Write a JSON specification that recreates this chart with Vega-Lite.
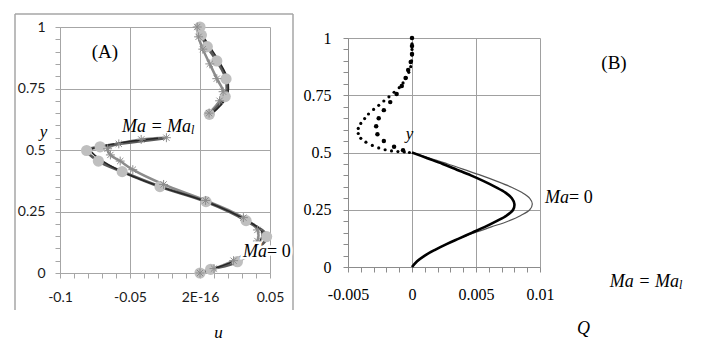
{
  "$schema": "https://vega.github.io/schema/vega-lite/v6.json",
  "background": "white",
  "padding": {"left": 14, "top": 13, "right": 0, "bottom": 0},
  "config": {"view": {"stroke": null}, "axis": {"domainWidth": 1, "gridWidth": 1, "tickWidth": 1}},
  "datasets": {
    "ua": [
      {"u": 0, "y": 1, "p": "up", "m": 1},
      {"u": 0.001, "y": 0.967, "p": "up", "m": 1},
      {"u": 0.0052, "y": 0.92, "p": "up", "m": 1},
      {"u": 0.012, "y": 0.862, "p": "up", "m": 1},
      {"u": 0.0186, "y": 0.789, "p": "up", "m": 1},
      {"u": 0.018, "y": 0.717, "p": "up", "m": 1},
      {"u": 0.0067, "y": 0.645, "p": "up", "m": 1},
      {"u": -0.026, "y": 0.548, "p": "lo", "m": 0},
      {"u": -0.0714, "y": 0.513, "p": "lo", "m": 1},
      {"u": -0.081, "y": 0.498, "p": "lo", "m": 1},
      {"u": -0.0726, "y": 0.455, "p": "lo", "m": 1},
      {"u": -0.0556, "y": 0.412, "p": "lo", "m": 1},
      {"u": -0.0286, "y": 0.351, "p": "lo", "m": 1},
      {"u": 0.0043, "y": 0.29, "p": "lo", "m": 1},
      {"u": 0.0329, "y": 0.213, "p": "lo", "m": 1},
      {"u": 0.0476, "y": 0.148, "p": "lo", "m": 1},
      {"u": 0.0267, "y": 0.046, "p": "lo", "m": 1},
      {"u": 0.0076, "y": 0.015, "p": "lo", "m": 1},
      {"u": 0, "y": 0, "p": "lo", "m": 1}
    ],
    "ub": [
      {"u": -0.002, "y": 1, "p": "up"},
      {"u": -0.001, "y": 0.96, "p": "up"},
      {"u": 0.002, "y": 0.91, "p": "up"},
      {"u": 0.007, "y": 0.85, "p": "up"},
      {"u": 0.012, "y": 0.79, "p": "up"},
      {"u": 0.0165, "y": 0.737, "p": "up"},
      {"u": 0.014, "y": 0.7, "p": "up"},
      {"u": 0.0065, "y": 0.65, "p": "up"},
      {"u": -0.024, "y": 0.55, "p": "lo"},
      {"u": -0.042, "y": 0.543, "p": "lo"},
      {"u": -0.058, "y": 0.525, "p": "lo"},
      {"u": -0.066, "y": 0.505, "p": "lo"},
      {"u": -0.064, "y": 0.48, "p": "lo"},
      {"u": -0.057, "y": 0.455, "p": "lo"},
      {"u": -0.048, "y": 0.42, "p": "lo"},
      {"u": -0.026, "y": 0.36, "p": "lo"},
      {"u": 0.004, "y": 0.295, "p": "lo"},
      {"u": 0.031, "y": 0.225, "p": "lo"},
      {"u": 0.041, "y": 0.175, "p": "lo"},
      {"u": 0.041, "y": 0.13, "p": "lo"},
      {"u": 0.035, "y": 0.09, "p": "lo"},
      {"u": 0.024, "y": 0.05, "p": "lo"},
      {"u": 0.01, "y": 0.018, "p": "lo"},
      {"u": 0, "y": 0, "p": "lo"}
    ],
    "uc": [
      {"u": 0.0005, "y": 1, "p": "up"},
      {"u": 0.002, "y": 0.967, "p": "up"},
      {"u": 0.007, "y": 0.92, "p": "up"},
      {"u": 0.0135, "y": 0.862, "p": "up"},
      {"u": 0.0197, "y": 0.789, "p": "up"},
      {"u": 0.0192, "y": 0.717, "p": "up"},
      {"u": 0.008, "y": 0.645, "p": "up"},
      {"u": -0.03, "y": 0.548, "p": "lo"},
      {"u": -0.052, "y": 0.534, "p": "lo"},
      {"u": -0.066, "y": 0.52, "p": "lo"},
      {"u": -0.078, "y": 0.5, "p": "lo"},
      {"u": -0.072, "y": 0.465, "p": "lo"},
      {"u": -0.055, "y": 0.41, "p": "lo"},
      {"u": -0.028, "y": 0.35, "p": "lo"},
      {"u": 0.0045, "y": 0.29, "p": "lo"},
      {"u": 0.033, "y": 0.215, "p": "lo"},
      {"u": 0.044, "y": 0.17, "p": "lo"},
      {"u": 0.043, "y": 0.13, "p": "lo"},
      {"u": 0.036, "y": 0.09, "p": "lo"},
      {"u": 0.025, "y": 0.05, "p": "lo"},
      {"u": 0.009, "y": 0.016, "p": "lo"},
      {"u": 0, "y": 0, "p": "lo"}
    ],
    "qs": [
      {"s": "thick", "y": 0, "q": 0}, {"s": "thick", "y": 0.025, "q": 0.0004}, {"s": "thick", "y": 0.05, "q": 0.001},
      {"s": "thick", "y": 0.075, "q": 0.0018}, {"s": "thick", "y": 0.1, "q": 0.0027}, {"s": "thick", "y": 0.125, "q": 0.0037},
      {"s": "thick", "y": 0.15, "q": 0.0047}, {"s": "thick", "y": 0.175, "q": 0.0057}, {"s": "thick", "y": 0.2, "q": 0.0066},
      {"s": "thick", "y": 0.225, "q": 0.0074}, {"s": "thick", "y": 0.25, "q": 0.0079}, {"s": "thick", "y": 0.275, "q": 0.008},
      {"s": "thick", "y": 0.3, "q": 0.0078}, {"s": "thick", "y": 0.325, "q": 0.0073}, {"s": "thick", "y": 0.35, "q": 0.0065},
      {"s": "thick", "y": 0.375, "q": 0.0056}, {"s": "thick", "y": 0.4, "q": 0.0046}, {"s": "thick", "y": 0.425, "q": 0.0035},
      {"s": "thick", "y": 0.45, "q": 0.0024}, {"s": "thick", "y": 0.475, "q": 0.0012}, {"s": "thick", "y": 0.5, "q": 0},
      {"s": "thin", "y": 0, "q": 0}, {"s": "thin", "y": 0.025, "q": 0.0004}, {"s": "thin", "y": 0.05, "q": 0.001},
      {"s": "thin", "y": 0.075, "q": 0.0018}, {"s": "thin", "y": 0.1, "q": 0.0027}, {"s": "thin", "y": 0.125, "q": 0.0037},
      {"s": "thin", "y": 0.15, "q": 0.0049}, {"s": "thin", "y": 0.175, "q": 0.0062}, {"s": "thin", "y": 0.2, "q": 0.0075},
      {"s": "thin", "y": 0.225, "q": 0.0085}, {"s": "thin", "y": 0.25, "q": 0.0092}, {"s": "thin", "y": 0.275, "q": 0.0094},
      {"s": "thin", "y": 0.3, "q": 0.0092}, {"s": "thin", "y": 0.325, "q": 0.0086}, {"s": "thin", "y": 0.35, "q": 0.0077},
      {"s": "thin", "y": 0.375, "q": 0.0066}, {"s": "thin", "y": 0.4, "q": 0.0054}, {"s": "thin", "y": 0.425, "q": 0.0041},
      {"s": "thin", "y": 0.45, "q": 0.0028}, {"s": "thin", "y": 0.475, "q": 0.0014}, {"s": "thin", "y": 0.5, "q": 0}
    ],
    "qd": [
      {"s": "outer", "q": 0, "y": 1.0}, {"s": "outer", "q": 0, "y": 0.975}, {"s": "outer", "q": 0, "y": 0.95},
      {"s": "outer", "q": 0, "y": 0.925}, {"s": "outer", "q": -0.00003, "y": 0.9}, {"s": "outer", "q": -0.0001, "y": 0.875},
      {"s": "outer", "q": -0.00025, "y": 0.85}, {"s": "outer", "q": -0.00045, "y": 0.826}, {"s": "outer", "q": -0.0007, "y": 0.804},
      {"s": "outer", "q": -0.001, "y": 0.783}, {"s": "outer", "q": -0.0014, "y": 0.763}, {"s": "outer", "q": -0.0018, "y": 0.743},
      {"s": "outer", "q": -0.0022, "y": 0.725}, {"s": "outer", "q": -0.0026, "y": 0.706}, {"s": "outer", "q": -0.003, "y": 0.688},
      {"s": "outer", "q": -0.0034, "y": 0.668}, {"s": "outer", "q": -0.0037, "y": 0.648}, {"s": "outer", "q": -0.004, "y": 0.627},
      {"s": "outer", "q": -0.0042, "y": 0.605}, {"s": "outer", "q": -0.0042, "y": 0.583}, {"s": "outer", "q": -0.004, "y": 0.562},
      {"s": "outer", "q": -0.0036, "y": 0.545}, {"s": "outer", "q": -0.0031, "y": 0.531}, {"s": "outer", "q": -0.0026, "y": 0.52},
      {"s": "outer", "q": -0.0021, "y": 0.512}, {"s": "outer", "q": -0.0016, "y": 0.507}, {"s": "outer", "q": -0.0011, "y": 0.504},
      {"s": "outer", "q": -0.0006, "y": 0.502}, {"s": "outer", "q": -0.0002, "y": 0.5},
      {"s": "inner", "q": 0, "y": 1.0}, {"s": "inner", "q": 0, "y": 0.965}, {"s": "inner", "q": 0, "y": 0.93},
      {"s": "inner", "q": -0.0001, "y": 0.895}, {"s": "inner", "q": -0.0003, "y": 0.86}, {"s": "inner", "q": -0.0005, "y": 0.825},
      {"s": "inner", "q": -0.0008, "y": 0.79}, {"s": "inner", "q": -0.0012, "y": 0.755}, {"s": "inner", "q": -0.0017, "y": 0.72},
      {"s": "inner", "q": -0.0022, "y": 0.685}, {"s": "inner", "q": -0.0026, "y": 0.65}, {"s": "inner", "q": -0.0028, "y": 0.615},
      {"s": "inner", "q": -0.0027, "y": 0.58}, {"s": "inner", "q": -0.0022, "y": 0.55}, {"s": "inner", "q": -0.0014, "y": 0.525},
      {"s": "inner", "q": -0.0007, "y": 0.51}
    ]
  },
  "spacing": 78,
  "bounds": "flush",
  "hconcat": [
    {
      "width": 210,
      "height": 246,
      "encoding": {
        "x": {
          "field": "u", "type": "quantitative",
          "scale": {"domain": [-0.1, 0.05], "nice": false, "zero": false},
          "axis": {
            "values": [-0.1, -0.09, -0.08, -0.07, -0.06, -0.05, -0.04, -0.03, -0.02, -0.01, 0, 0.01, 0.02, 0.03, 0.04, 0.05],
            "labelExpr": "abs(datum.value+0.1)<1e-6 ? '-0.1' : abs(datum.value+0.05)<1e-6 ? '-0.05' : abs(datum.value)<1e-6 ? '2E-16' : abs(datum.value-0.05)<1e-6 ? '0.05' : ''",
            "labelFont": "Lato", "labelFontSize": 14, "labelColor": "#1a1a1a", "labelPadding": 12,
            "labelOverlap": false, "labelBound": false, "labelFlush": false,
            "tickSize": 5, "tickColor": "#a6a6a6", "domainColor": "#a6a6a6",
            "grid": true, "gridColor": "#a6a6a6",
            "gridOpacity": {"condition": {"test": "abs(datum.value*20-round(datum.value*20))<1e-6", "value": 1}, "value": 0},
            "title": "u", "titleFont": "Liberation Serif", "titleFontStyle": "italic", "titleFontWeight": "normal",
            "titleFontSize": 17, "titleColor": "#000000", "titleX": 158, "titleY": 59, "titleAlign": "center", "titleBaseline": "middle"
          }
        },
        "y": {
          "field": "y", "type": "quantitative",
          "scale": {"domain": [0, 1], "nice": false, "zero": false},
          "axis": {
            "values": [0, 0.05, 0.1, 0.15, 0.2, 0.25, 0.3, 0.35, 0.4, 0.45, 0.5, 0.55, 0.6, 0.65, 0.7, 0.75, 0.8, 0.85, 0.9, 0.95, 1],
            "labelExpr": "abs(datum.value)<1e-6 ? '0' : abs(datum.value-0.25)<1e-6 ? '0.25' : abs(datum.value-0.5)<1e-6 ? '0.5' : abs(datum.value-0.75)<1e-6 ? '0.75' : abs(datum.value-1)<1e-6 ? '1' : ''",
            "labelFont": "Lato", "labelFontSize": 14, "labelColor": "#1a1a1a", "labelPadding": 10,
            "labelOverlap": false, "labelBound": false, "labelFlush": false,
            "tickSize": 5, "tickColor": "#a6a6a6", "domainColor": "#a6a6a6",
            "grid": true, "gridColor": "#a6a6a6",
            "gridOpacity": {"condition": {"test": "abs(datum.value*4-round(datum.value*4))<1e-6", "value": 1}, "value": 0},
            "title": "y", "titleFont": "Liberation Serif", "titleFontStyle": "italic", "titleFontWeight": "normal",
            "titleFontSize": 17, "titleColor": "#000000", "titleAngle": 0, "titleX": -17, "titleY": 104, "titleAlign": "center", "titleBaseline": "middle"
          }
        }
      },
      "layer": [
        {
          "data": {"values": [
            {"u": -0.13214, "y": -0.1504, "u2": -0.13214, "y2": 1.0528},
            {"u": -0.13214, "y": 1.0528, "u2": 0.06643, "y2": 1.0528},
            {"u": 0.06643, "y": 1.0528, "u2": 0.06643, "y2": -0.1504}
          ]},
          "mark": {"type": "rule", "color": "#a6a6a6", "strokeWidth": 1.5},
          "encoding": {"x2": {"field": "u2"}, "y2": {"field": "y2"}}
        },
        {
          "data": {"name": "ub"},
          "mark": {"type": "line", "color": "#8c8c8c", "strokeWidth": 2.5, "interpolate": "catmull-rom"},
          "encoding": {"detail": {"field": "p"}, "order": {"field": "y", "type": "quantitative", "sort": "descending"}}
        },
        {
          "data": {"name": "ua"},
          "mark": {"type": "line", "color": "#595959", "strokeWidth": 3, "interpolate": "catmull-rom"},
          "encoding": {"detail": {"field": "p"}, "order": {"field": "y", "type": "quantitative", "sort": "descending"}}
        },
        {
          "data": {"name": "uc"},
          "mark": {"type": "line", "color": "#262626", "strokeWidth": 1.5, "interpolate": "catmull-rom"},
          "encoding": {"detail": {"field": "p"}, "order": {"field": "y", "type": "quantitative", "sort": "descending"}}
        },
        {
          "data": {"name": "ua"},
          "transform": [{"filter": "datum.m == 1"}],
          "mark": {"type": "circle", "size": 125, "color": "#bfbfbf", "opacity": 1}
        },
        {
          "data": {"name": "ub"},
          "mark": {"type": "point", "shape": "M-1,0L1,0M0,-1L0,1M-0.7,-0.7L0.7,0.7M-0.7,0.7L0.7,-0.7", "size": 80, "filled": false, "stroke": "#8c8c8c", "strokeWidth": 1, "opacity": 1}
        },
        {
          "data": {"values": [{"u": -0.0679, "y": 0.898, "t": "(A)"}]},
          "mark": {"type": "text", "font": "Liberation Serif", "fontSize": 19, "align": "center", "baseline": "middle", "color": "#000000"},
          "encoding": {"text": {"field": "t"}}
        },
        {
          "data": {"values": [{"u": -0.0064, "y": 0.593, "t": "Ma = Ma"}]},
          "mark": {"type": "text", "font": "Liberation Serif", "fontStyle": "italic", "fontSize": 18, "align": "right", "baseline": "middle", "color": "#000000"},
          "encoding": {"text": {"field": "t"}}
        },
        {
          "data": {"values": [{"u": -0.0064, "y": 0.593, "t": "l"}]},
          "mark": {"type": "text", "font": "Liberation Serif", "fontStyle": "italic", "fontSize": 12, "align": "left", "baseline": "middle", "dy": 3, "color": "#000000"},
          "encoding": {"text": {"field": "t"}}
        },
        {
          "data": {"values": [{"u": 0.0479, "y": 0.085, "t": "Ma"}]},
          "mark": {"type": "text", "font": "Liberation Serif", "fontStyle": "italic", "fontSize": 18, "align": "right", "baseline": "middle", "color": "white", "stroke": "white", "strokeWidth": 5},
          "encoding": {"text": {"field": "t"}}
        },
        {
          "data": {"values": [{"u": 0.0479, "y": 0.085, "t": "\u00a0=\u00a00"}]},
          "mark": {"type": "text", "font": "Liberation Serif", "fontSize": 18, "align": "left", "baseline": "middle", "color": "white", "stroke": "white", "strokeWidth": 5},
          "encoding": {"text": {"field": "t"}}
        },
        {
          "data": {"values": [{"u": 0.0479, "y": 0.085, "t": "Ma"}]},
          "mark": {"type": "text", "font": "Liberation Serif", "fontStyle": "italic", "fontSize": 18, "align": "right", "baseline": "middle", "color": "#000000"},
          "encoding": {"text": {"field": "t"}}
        },
        {
          "data": {"values": [{"u": 0.0479, "y": 0.085, "t": "\u00a0=\u00a00"}]},
          "mark": {"type": "text", "font": "Liberation Serif", "fontSize": 18, "align": "left", "baseline": "middle", "color": "#000000"},
          "encoding": {"text": {"field": "t"}}
        }
      ]
    },
    {
      "spacing": 10,
      "bounds": "flush",
      "vconcat": [
        {
          "width": 192,
          "height": 1,
          "data": {"values": [{}]},
          "mark": {"type": "point", "opacity": 0}
        },
        {
          "width": 192,
          "height": 229,
          "encoding": {
            "x": {
              "field": "q", "type": "quantitative",
              "scale": {"domain": [-0.005, 0.01], "nice": false, "zero": false},
              "axis": {
                "values": [-0.005, -0.004, -0.003, -0.002, -0.001, 0, 0.001, 0.002, 0.003, 0.004, 0.005, 0.006, 0.007, 0.008, 0.009, 0.01],
                "labelExpr": "abs(datum.value+0.005)<1e-7 ? '-0.005' : abs(datum.value)<1e-7 ? '0' : abs(datum.value-0.005)<1e-7 ? '0.005' : abs(datum.value-0.01)<1e-7 ? '0.01' : ''",
                "labelFont": "Liberation Serif", "labelFontSize": 16, "labelColor": "#000000", "labelPadding": 14,
                "labelOverlap": false, "labelBound": false, "labelFlush": false,
                "tickSize": 5, "tickColor": "#8c8c8c", "domainColor": "#8c8c8c",
                "grid": true, "gridColor": "#a0a0a0",
                "gridOpacity": {"condition": {"test": "abs(datum.value*200-round(datum.value*200))<1e-6", "value": 1}, "value": 0},
                "title": "Q", "titleFont": "Liberation Serif", "titleFontStyle": "italic", "titleFontWeight": "normal",
                "titleFontSize": 18, "titleColor": "#000000", "titleX": 235, "titleY": 61, "titleAlign": "center", "titleBaseline": "middle"
              }
            },
            "y": {
              "field": "y", "type": "quantitative",
              "scale": {"domain": [0, 1], "nice": false, "zero": false},
              "axis": {
                "values": [0, 0.05, 0.1, 0.15, 0.2, 0.25, 0.3, 0.35, 0.4, 0.45, 0.5, 0.55, 0.6, 0.65, 0.7, 0.75, 0.8, 0.85, 0.9, 0.95, 1],
                "labelExpr": "abs(datum.value)<1e-6 ? '0' : abs(datum.value-0.25)<1e-6 ? '0.25' : abs(datum.value-0.5)<1e-6 ? '0.5' : abs(datum.value-0.75)<1e-6 ? '0.75' : abs(datum.value-1)<1e-6 ? '1' : ''",
                "labelFont": "Liberation Serif", "labelFontSize": 16, "labelColor": "#000000", "labelPadding": 12,
                "labelOverlap": false, "labelBound": false, "labelFlush": false,
                "tickSize": 5, "tickColor": "#8c8c8c", "domainColor": "#8c8c8c",
                "grid": true, "gridColor": "#a0a0a0",
                "gridOpacity": {"condition": {"test": "abs(datum.value*4-round(datum.value*4))<1e-6", "value": 1}, "value": 0},
                "title": "y", "titleFont": "Liberation Serif", "titleFontStyle": "italic", "titleFontWeight": "normal",
                "titleFontSize": 17, "titleColor": "#000000", "titleAngle": 0, "titleX": 61, "titleY": 95, "titleAlign": "center", "titleBaseline": "middle"
              }
            }
          },
          "layer": [
            {
              "data": {"name": "qs"},
              "transform": [{"filter": "datum.s == 'thin'"}],
              "mark": {"type": "line", "color": "#555555", "strokeWidth": 1.2, "interpolate": "catmull-rom"},
              "encoding": {"order": {"field": "y", "type": "quantitative"}}
            },
            {
              "data": {"name": "qs"},
              "transform": [{"filter": "datum.s == 'thick'"}],
              "mark": {"type": "line", "color": "#000000", "strokeWidth": 2.6, "interpolate": "catmull-rom"},
              "encoding": {"order": {"field": "y", "type": "quantitative"}}
            },
            {
              "data": {"name": "qd"},
              "transform": [{"filter": "datum.s == 'outer'"}],
              "mark": {"type": "circle", "size": 10, "color": "#000000", "opacity": 1}
            },
            {
              "data": {"name": "qd"},
              "transform": [{"filter": "datum.s == 'inner'"}],
              "mark": {"type": "circle", "size": 20, "color": "#000000", "opacity": 1}
            },
            {
              "data": {"values": [{"q": 0.01578, "y": 0.891, "t": "(B)"}]},
              "mark": {"type": "text", "font": "Liberation Serif", "fontSize": 19, "align": "center", "baseline": "middle", "color": "#000000"},
              "encoding": {"text": {"field": "t"}}
            },
            {
              "data": {"values": [{"q": 0.01227, "y": 0.301, "t": "Ma"}]},
              "mark": {"type": "text", "font": "Liberation Serif", "fontStyle": "italic", "fontSize": 18, "align": "right", "baseline": "middle", "color": "#000000"},
              "encoding": {"text": {"field": "t"}}
            },
            {
              "data": {"values": [{"q": 0.01227, "y": 0.301, "t": "\u00a0=\u00a00"}]},
              "mark": {"type": "text", "font": "Liberation Serif", "fontSize": 18, "align": "left", "baseline": "middle", "color": "#000000"},
              "encoding": {"text": {"field": "t"}}
            },
            {
              "data": {"values": [{"q": 0.02086, "y": -0.0655, "t": "Ma = Ma"}]},
              "mark": {"type": "text", "font": "Liberation Serif", "fontStyle": "italic", "fontSize": 18, "align": "right", "baseline": "middle", "color": "#000000"},
              "encoding": {"text": {"field": "t"}}
            },
            {
              "data": {"values": [{"q": 0.02086, "y": -0.0655, "t": "l"}]},
              "mark": {"type": "text", "font": "Liberation Serif", "fontStyle": "italic", "fontSize": 12, "align": "left", "baseline": "middle", "dy": 3, "color": "#000000"},
              "encoding": {"text": {"field": "t"}}
            }
          ]
        }
      ]
    }
  ]
}
